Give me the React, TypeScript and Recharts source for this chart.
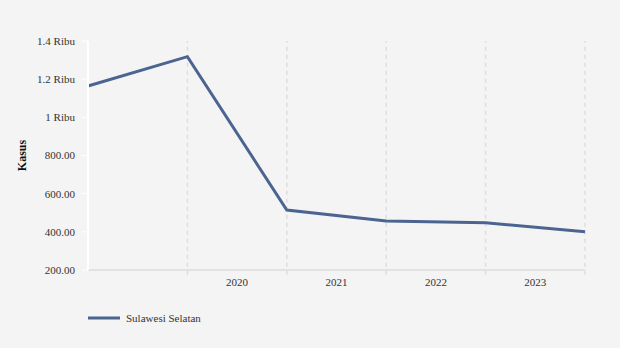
import React from "react"
import { LineChart, Line, XAxis, YAxis, Legend, ReferenceLine } from "recharts"

// six points; year labels sit between the grid lines
const periods = [0, 1, 2, 3, 4, 5]
const kasus = [1164, 1318, 514, 457, 448, 400]
const yearTicks = [1.5, 2.5, 3.5, 4.5]
const yearLabels = ["2020", "2021", "2022", "2023"]
const gridAt = [1, 2, 3, 4, 5]
const yTicks = [200, 400, 600, 800, 1000, 1200, 1400]

const data = periods.map((p, i) => ({ p, kasus: kasus[i] }))

const fmtY = (v: number) => (v >= 1000 ? `${v / 1000} Ribu` : v.toFixed(2))
const fmtX = (v: number) => yearLabels[yearTicks.indexOf(v)] ?? ""

const font = "'Liberation Serif', 'Times New Roman', serif"

function LegendBox() {
  return (
    <div style={{ display: "flex", alignItems: "center", fontFamily: font, fontSize: 11, color: "#333" }}>
      <svg width={32} height={6} style={{ marginRight: 6 }}>
        <line x1={0} y1={3} x2={32} y2={3} stroke="#4c6490" strokeWidth={3} />
      </svg>
      Sulawesi Selatan
    </div>
  )
}

export default function App() {
  return (
    <div style={{ position: "absolute", left: 0, top: 0, width: 620, height: 348, background: "#f4f4f4" }}>
      <LineChart width={620} height={348} data={data} margin={{ top: 41, right: 35, left: 0, bottom: 34 }}>
        <XAxis
          dataKey="p"
          type="number"
          domain={[0, 5]}
          ticks={yearTicks}
          tickFormatter={fmtX}
          axisLine={{ stroke: "#e2e2e2", strokeWidth: 2 }}
          tickLine={false}
          tick={{ fontFamily: font, fontSize: 11, fill: "#333" }}
          tickMargin={2}
          height={30}
        />
        <YAxis
          domain={[200, 1400]}
          ticks={yTicks}
          tickFormatter={fmtY}
          width={88}
          axisLine={{ stroke: "#ffffff", strokeWidth: 2 }}
          tickLine={{ stroke: "#ffffff" }}
          tickSize={6}
          tickMargin={7}
          tick={{ fontFamily: font, fontSize: 11, fill: "#333" }}
          label={{
            value: "Kasus",
            angle: -90,
            position: "insideLeft",
            offset: 22,
            style: { fontFamily: font, fontSize: 12, fontWeight: "bold", fill: "#111", textAnchor: "middle" },
          }}
        />
        {gridAt.map((g) => (
          <ReferenceLine
            key={g}
            segment={[{ x: g, y: 175 }, { x: g, y: 1400 }]}
            ifOverflow="visible"
            stroke="#dddddd"
            strokeDasharray="4 4"
            strokeWidth={1.5}
          />
        ))}
        <Line
          dataKey="kasus"
          name="Sulawesi Selatan"
          stroke="#4c6490"
          strokeWidth={3}
          dot={false}
          activeDot={false}
          isAnimationActive={false}
        />
        <Legend
          content={() => <LegendBox />}
          wrapperStyle={{ position: "absolute", left: 88, top: 312, width: 200, height: 14 }}
        />
      </LineChart>
    </div>
  )
}
